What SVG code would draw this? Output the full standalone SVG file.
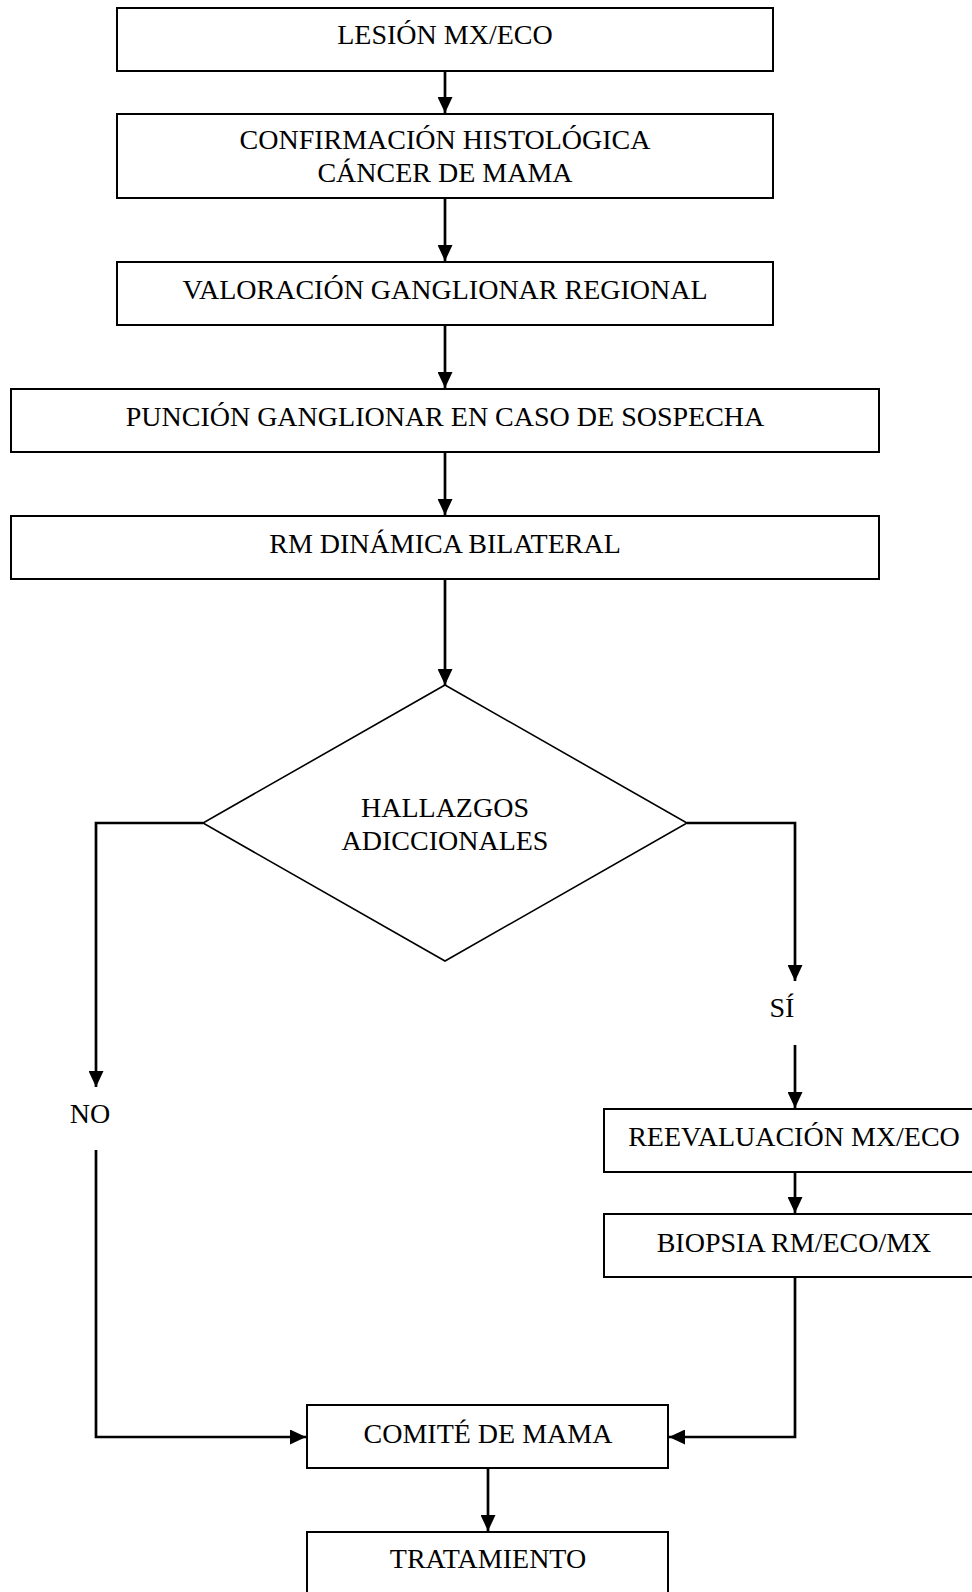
<svg xmlns="http://www.w3.org/2000/svg" width="972" height="1592" viewBox="0 0 972 1592">
<defs>
<marker id="ah" markerWidth="16" markerHeight="15" refX="16" refY="7.5" orient="auto" markerUnits="userSpaceOnUse">
<path d="M0,0 L16,7.5 L0,15 Z" fill="#000"/>
</marker>
<style>
.box{fill:#fff;stroke:#000;stroke-width:2}
.dia{fill:#fff;stroke:#000;stroke-width:1.6}
.t{font-family:"Liberation Serif","Times New Roman",serif;font-size:28px;fill:#000;text-anchor:middle}
.ca{fill:none;stroke:#000;stroke-width:2.7;marker-end:url(#ah)}
</style>
</defs>
<rect width="972" height="1592" fill="#fff"/>
<g id="connectors">
<line class="ca" x1="445" y1="71" x2="445" y2="113"/>
<line class="ca" x1="445" y1="198" x2="445" y2="261"/>
<line class="ca" x1="445" y1="325" x2="445" y2="388"/>
<line class="ca" x1="445" y1="452" x2="445" y2="515"/>
<line class="ca" x1="445" y1="579" x2="445" y2="685"/>
<polyline class="ca" points="203,823 96,823 96,1087"/>
<polyline class="ca" points="96,1150 96,1437 306,1437"/>
<polyline class="ca" points="687,823 795,823 795,981"/>
<line class="ca" x1="795" y1="1045" x2="795" y2="1108"/>
<line class="ca" x1="795" y1="1172" x2="795" y2="1213"/>
<polyline class="ca" points="795,1277 795,1437 669,1437"/>
<line class="ca" x1="488" y1="1468" x2="488" y2="1531"/>
</g>
<g id="n1"><rect class="box" x="117" y="8" width="656" height="63"/><text class="t" x="445" y="44">LESIÓN MX/ECO</text></g>
<g id="n2"><rect class="box" x="117" y="114" width="656" height="84"/><text class="t" x="445" y="149">CONFIRMACIÓN HISTOLÓGICA</text><text class="t" x="445" y="182">CÁNCER DE MAMA</text></g>
<g id="n3"><rect class="box" x="117" y="262" width="656" height="63"/><text class="t" x="445" y="299">VALORACIÓN GANGLIONAR REGIONAL</text></g>
<g id="n4"><rect class="box" x="11" y="389" width="868" height="63"/><text class="t" x="445" y="426">PUNCIÓN GANGLIONAR EN CASO DE SOSPECHA</text></g>
<g id="n5"><rect class="box" x="11" y="516" width="868" height="63"/><text class="t" x="445" y="553">RM DINÁMICA BILATERAL</text></g>
<g id="n6"><polygon class="dia" points="445,685 687,823 445,961 203,823"/><text class="t" x="445" y="817">HALLAZGOS</text><text class="t" x="445" y="850">ADICCIONALES</text></g>
<g id="lno"><text class="t" x="90" y="1123">NO</text></g>
<g id="lsi"><text class="t" x="782" y="1017">SÍ</text></g>
<g id="n7"><rect class="box" x="604" y="1109" width="390" height="63"/><text class="t" x="794" y="1146">REEVALUACIÓN MX/ECO</text></g>
<g id="n8"><rect class="box" x="604" y="1214" width="390" height="63"/><text class="t" x="794" y="1252">BIOPSIA RM/ECO/MX</text></g>
<g id="n9"><rect class="box" x="307" y="1405" width="361" height="63"/><text class="t" x="488" y="1443">COMITÉ DE MAMA</text></g>
<g id="n10"><rect class="box" x="307" y="1532" width="361" height="80"/><text class="t" x="488" y="1568">TRATAMIENTO</text></g>
</svg>
